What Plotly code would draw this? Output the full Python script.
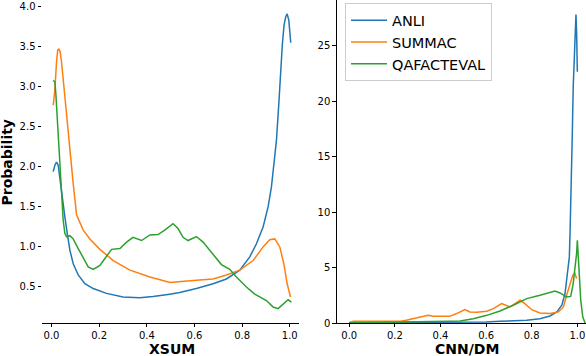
import plotly.graph_objects as go

# --- XSUM panel (left) ---
xsum_anli_x = [0.007, 0.014, 0.021, 0.028, 0.038, 0.046, 0.056, 0.066, 0.077, 0.091, 0.112, 0.14, 0.175,
               0.231, 0.30, 0.37, 0.426, 0.496, 0.538, 0.608, 0.678, 0.734, 0.79, 0.832, 0.86, 0.888,
               0.909, 0.923, 0.933, 0.944, 0.954, 0.961, 0.969, 0.976, 0.983, 0.989, 0.996, 1.0, 1.004]
xsum_anli_y = [1.94, 2.02, 2.06, 2.02, 1.79, 1.58, 1.375, 1.17, 0.96, 0.79, 0.65, 0.54, 0.48,
               0.42, 0.375, 0.365, 0.38, 0.41, 0.43, 0.48, 0.54, 0.60, 0.71, 0.875, 1.04, 1.25,
               1.5, 1.75, 2.0, 2.33, 2.79, 3.17, 3.54, 3.77, 3.875, 3.91, 3.83, 3.69, 3.55]

xsum_summac_x = [0.007, 0.014, 0.021, 0.026, 0.031, 0.036, 0.042, 0.049, 0.057, 0.065, 0.074, 0.081,
                 0.091, 0.105, 0.133, 0.161, 0.203, 0.259, 0.329, 0.413, 0.497, 0.594, 0.678, 0.734,
                 0.79, 0.846, 0.888, 0.916, 0.937, 0.958, 0.975, 0.989, 1.003]
xsum_summac_y = [2.77, 2.96, 3.31, 3.46, 3.47, 3.44, 3.31, 3.08, 2.90, 2.58, 2.29, 2.04,
                 1.79, 1.40, 1.21, 1.10, 0.97, 0.83, 0.71, 0.625, 0.555, 0.58, 0.60, 0.65,
                 0.71, 0.83, 1.00, 1.09, 1.10, 1.00, 0.79, 0.54, 0.375]

xsum_qafe_x = [0.007, 0.014, 0.018, 0.022, 0.026, 0.031, 0.035, 0.039, 0.043, 0.049, 0.056, 0.063,
               0.077, 0.091, 0.112, 0.133, 0.154, 0.175, 0.203, 0.224, 0.252, 0.287, 0.315, 0.342,
               0.378, 0.413, 0.447, 0.475, 0.51, 0.531, 0.552, 0.573, 0.608, 0.636, 0.678, 0.713,
               0.748, 0.776, 0.818, 0.853, 0.902, 0.93, 0.951, 0.972, 0.993, 1.007]
xsum_qafe_y = [3.08, 3.06, 2.92, 2.71, 2.46, 2.21, 1.96, 1.71, 1.5, 1.33, 1.17, 1.125,
               1.14, 1.1, 0.98, 0.855, 0.75, 0.72, 0.77, 0.855, 0.97, 0.98, 1.06, 1.12,
               1.08, 1.15, 1.155, 1.21, 1.29, 1.23, 1.12, 1.08, 1.13, 1.06, 0.9, 0.78,
               0.72, 0.625, 0.5, 0.41, 0.33, 0.25, 0.23, 0.29, 0.34, 0.31]

# --- CNN/DM panel (right) ---
cnndm_anli_x = [0.0, 0.2, 0.4, 0.6, 0.661, 0.778, 0.836, 0.88, 0.91, 0.932, 0.946, 0.956, 0.965,
                0.968, 0.974, 0.978, 0.982, 0.987, 0.991, 0.994, 0.997, 1.0]
cnndm_anli_y = [0.05, 0.05, 0.05, 0.08, 0.15, 0.24, 0.39, 0.63, 1.0, 1.6, 2.65, 4.15, 5.96,
                8.07, 12.27, 17.1, 21.3, 24.9, 27.0, 27.8, 26.1, 22.65]

cnndm_summac_x = [0.0, 0.018, 0.105, 0.18, 0.23, 0.25, 0.28, 0.325, 0.346, 0.368, 0.44, 0.471, 0.493,
                  0.507, 0.529, 0.559, 0.603, 0.632, 0.668, 0.69, 0.705, 0.727, 0.749, 0.77, 0.8,
                  0.836, 0.88, 0.917, 0.939, 0.953, 0.968, 0.98, 0.989, 0.997]
cnndm_summac_y = [0.03, 0.15, 0.15, 0.15, 0.18, 0.24, 0.36, 0.54, 0.69, 0.6, 0.6, 0.85, 1.08,
                  1.21, 1.0, 0.97, 1.06, 1.3, 1.75, 1.6, 1.45, 1.75, 2.05, 1.75, 1.2,
                  0.9, 0.85, 1.0, 1.45, 2.5, 3.55, 4.3, 4.5, 4.0]

cnndm_qafe_x = [0.0, 0.2, 0.44, 0.486, 0.544, 0.603, 0.661, 0.719, 0.778, 0.836, 0.873, 0.902, 0.924,
                0.953, 0.971, 0.982, 0.99, 0.997, 1.0, 1.004, 1.009, 1.015, 1.024, 1.034]
cnndm_qafe_y = [0.02, 0.05, 0.15, 0.18, 0.39, 0.69, 1.08, 1.6, 2.2, 2.5, 2.74, 2.89, 2.71,
                2.35, 2.4, 3.55, 5.05, 6.3, 7.46, 6.26, 4.46, 2.05, 0.54, 0.0]

names = ["ANLI", "SUMMAC", "QAFACTEVAL"]
colors = ["#1f77b4", "#ff7f0e", "#2ca02c"]

left = [(xsum_anli_x, xsum_anli_y), (xsum_summac_x, xsum_summac_y), (xsum_qafe_x, xsum_qafe_y)]
right = [(cnndm_anli_x, cnndm_anli_y), (cnndm_summac_x, cnndm_summac_y), (cnndm_qafe_x, cnndm_qafe_y)]

fig = go.Figure()

for i, (xs, ys) in enumerate(left):
    fig.add_trace(go.Scatter(x=xs, y=ys, mode="lines", name=names[i], showlegend=False,
                             line=dict(color=colors[i], width=1.5), xaxis="x", yaxis="y"))

for i, (xs, ys) in enumerate(right):
    fig.add_trace(go.Scatter(x=xs, y=ys, mode="lines", name=names[i],
                             line=dict(color=colors[i], width=1.5), xaxis="x2", yaxis="y2"))

font = "DejaVu Sans"
tick_style = dict(ticks="outside", ticklen=3.5, tickwidth=0.8, tickcolor="black",
                  showgrid=False, zeroline=False, linecolor="black", linewidth=0.8,
                  automargin=False,
                  tickfont=dict(family=font, size=10, color="black"))

fig.update_layout(
    width=586, height=356,
    margin=dict(l=42, r=0, t=0, b=33, autoexpand=False),
    plot_bgcolor="white", paper_bgcolor="white",
    xaxis=dict(domain=[0, 0.473], range=[-0.04, 1.04], tickvals=[0, 0.2, 0.4, 0.6, 0.8, 1.0],
               tickformat=".1f", showline=True, anchor="y", **tick_style),
    yaxis=dict(range=[0.05, 4.084], tickvals=[0.5, 1.0, 1.5, 2.0, 2.5, 3.0, 3.5, 4.0],
               tickformat=".1f", showline=False, anchor="x", **tick_style),
    xaxis2=dict(domain=[0.5417, 1.0], range=[-0.055, 1.038], tickvals=[0, 0.2, 0.4, 0.6, 0.8, 1.0],
                tickformat=".1f", showline=True, anchor="y2", **tick_style),
    yaxis2=dict(range=[0, 29.12], tickvals=[0, 5, 10, 15, 20, 25],
                showline=True, anchor="x2", **tick_style),
    legend=dict(x=0.557, y=0.99, xanchor="left", yanchor="top", itemwidth=36,
                bgcolor="rgba(255,255,255,0.8)", bordercolor="#cccccc", borderwidth=1,
                font=dict(family=font, size=14.5, color="black")),
    font=dict(family=font, color="black"),
)

title_font = dict(family=font, size=14, color="black", weight="bold")
fig.add_annotation(text="XSUM", x=0.239, y=-0.08, xref="paper", yref="paper",
                   showarrow=False, font=title_font, xanchor="center", yanchor="middle")
fig.add_annotation(text="CNN/DM", x=0.782, y=-0.08, xref="paper", yref="paper",
                   showarrow=False, font=title_font, xanchor="center", yanchor="middle")
fig.add_annotation(text="Probability", x=-0.0643, y=0.497, xref="paper", yref="paper",
                   showarrow=False, font=title_font, textangle=-90,
                   xanchor="center", yanchor="middle")

# page body has a default 8px margin; drop it so the figure sits at the window corner
fig.write_html("out.html", config={"displayModeBar": False},
               post_script="document.body.style.margin='0';")
